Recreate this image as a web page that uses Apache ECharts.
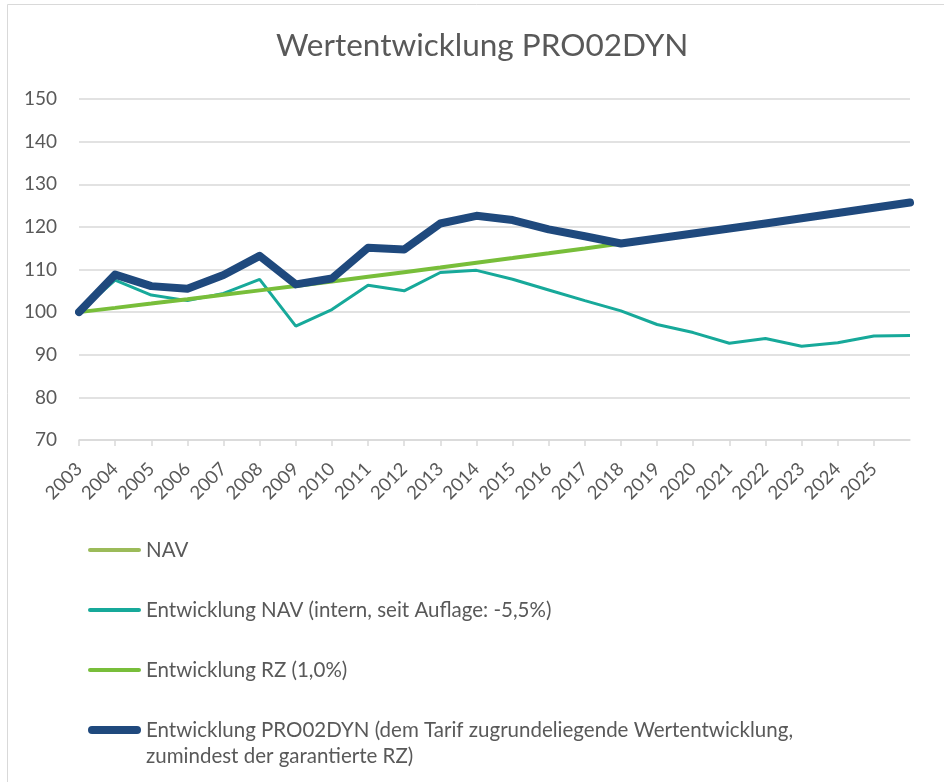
<!DOCTYPE html>
<html>
<head>
<meta charset="utf-8">
<title>Wertentwicklung PRO02DYN</title>
<script src="https://cdn.jsdelivr.net/npm/echarts@6/dist/echarts.min.js"></script>
<style>
  html, body { margin: 0; padding: 0; background: #ffffff; }
  #chart { width: 944px; height: 782px; }
</style>
</head>
<body>
<div id="chart"></div>
<script>
// Jahre (letzter Punkt = Ende 2025, ohne eigene Beschriftung)
var years = ['2003', '2004', '2005', '2006', '2007', '2008', '2009', '2010', '2011', '2012',
  '2013', '2014', '2015', '2016', '2017', '2018', '2019', '2020', '2021', '2022',
  '2023', '2024', '2025', ''];

// NAV (im Bild nicht sichtbar)
var nav = [];

// Entwicklung NAV (intern)
var navIntern = [100, 107.5, 104.0, 102.7, 104.4, 107.7, 96.7, 100.6, 106.3, 105.0,
  109.3, 109.8, 107.7, 105.2, 102.7, 100.3, 97.1, 95.2, 92.7, 93.8,
  92.0, 92.8, 94.4, 94.5];

// Entwicklung RZ (1,0%)
var rz = [100, 101, 102.01, 103.03, 104.06, 105.1, 106.15, 107.21, 108.29, 109.37,
  110.46, 111.57, 112.68, 113.81, 114.95, 116.1, 117.26, 118.43, 119.62, 120.81,
  122.02, 123.24, 124.48, 125.72];

// Entwicklung PRO02DYN
var pro = [100, 108.8, 106.1, 105.5, 108.7, 113.2, 106.5, 107.9, 115.1, 114.7,
  120.8, 122.6, 121.6, 119.4, 117.8, 116.1, 117.26, 118.43, 119.62, 120.81,
  122.02, 123.24, 124.48, 125.72];

var names = [
  'NAV',
  'Entwicklung NAV (intern, seit Auflage: -5,5%)',
  'Entwicklung RZ (1,0%)',
  'Entwicklung PRO02DYN (dem Tarif zugrundeliegende Wertentwicklung,'
];

var font = 'Lato, "Open Sans", sans-serif';
var thinIcon = 'path://M2,0H51A2,2,0,0,1,51,4H2A2,2,0,0,1,2,0Z';
var thickIcon = 'path://M4,0H49A4,4,0,0,1,49,8H4A4,4,0,0,1,4,0Z';

var chart = echarts.init(document.getElementById('chart'));

var option = {
  backgroundColor: '#ffffff',
  animation: false,
  title: {
    text: 'Wertentwicklung PRO02DYN',
    left: 271,
    top: 25,
    textStyle: { fontFamily: font, fontSize: 31.5, fontWeight: 'normal', color: '#595959' }
  },
  legend: {
    orient: 'vertical',
    left: 88,
    top: 538,
    padding: 0,
    itemGap: 36,
    itemWidth: 53,
    itemHeight: 8,
    itemStyle: { borderWidth: 0 },
    data: [
      { name: names[0], icon: thinIcon },
      { name: names[1], icon: thinIcon },
      { name: names[2], icon: thinIcon },
      { name: names[3], icon: thickIcon }
    ],
    textStyle: { fontFamily: font, fontSize: 20.5, lineHeight: 24, color: '#595959' }
  },
  graphic: [
    {
      type: 'rect',
      silent: true,
      shape: { x: 7.5, y: 4.5, width: 1200, height: 1200 },
      style: { fill: 'none', stroke: '#d9d9d9', lineWidth: 1 }
    },
    {
      type: 'text',
      left: 146,
      top: 746,
      style: { text: 'zumindest der garantierte RZ)', fontFamily: font, fontSize: 20.5, fill: '#595959' }
    }
  ],
  grid: { left: 79, right: 34, top: 99, bottom: 342, containLabel: false },
  xAxis: {
    type: 'category',
    data: years,
    boundaryGap: false,
    axisLine: { lineStyle: { color: '#d9d9d9', width: 1.5 } },
    axisTick: { length: 6, lineStyle: { color: '#d9d9d9', width: 1.5 },
      interval: function (i) { return i < years.length - 1; } },
    axisLabel: { rotate: 45, interval: 0, fontFamily: font, fontSize: 18.5, color: '#595959', margin: 26 },
    splitLine: { show: false }
  },
  yAxis: {
    type: 'value',
    min: 70,
    max: 150,
    interval: 10,
    axisLine: { show: false },
    axisTick: { show: false },
    axisLabel: { fontFamily: font, fontSize: 19, color: '#595959', margin: 22 },
    splitLine: { lineStyle: { color: '#d9d9d9', width: 1.5 } }
  },
  series: [
    { name: names[0], type: 'line', data: nav, symbol: 'none',
      itemStyle: { color: '#9bbb59', borderWidth: 0 }, lineStyle: { color: '#9bbb59', width: 4 } },
    { name: names[1], type: 'line', data: navIntern, symbol: 'none',
      itemStyle: { color: '#17a99a', borderWidth: 0 }, lineStyle: { color: '#17a99a', width: 3 } },
    { name: names[2], type: 'line', data: rz, symbol: 'none',
      itemStyle: { color: '#78be3a', borderWidth: 0 }, lineStyle: { color: '#78be3a', width: 4 } },
    { name: names[3], type: 'line', data: pro, symbol: 'none',
      itemStyle: { color: '#1f497d', borderWidth: 0 }, lineStyle: { color: '#1f497d', width: 8, cap: 'round', join: 'round' } }
  ]
};

chart.setOption(option);
</script>
</body>
</html>
